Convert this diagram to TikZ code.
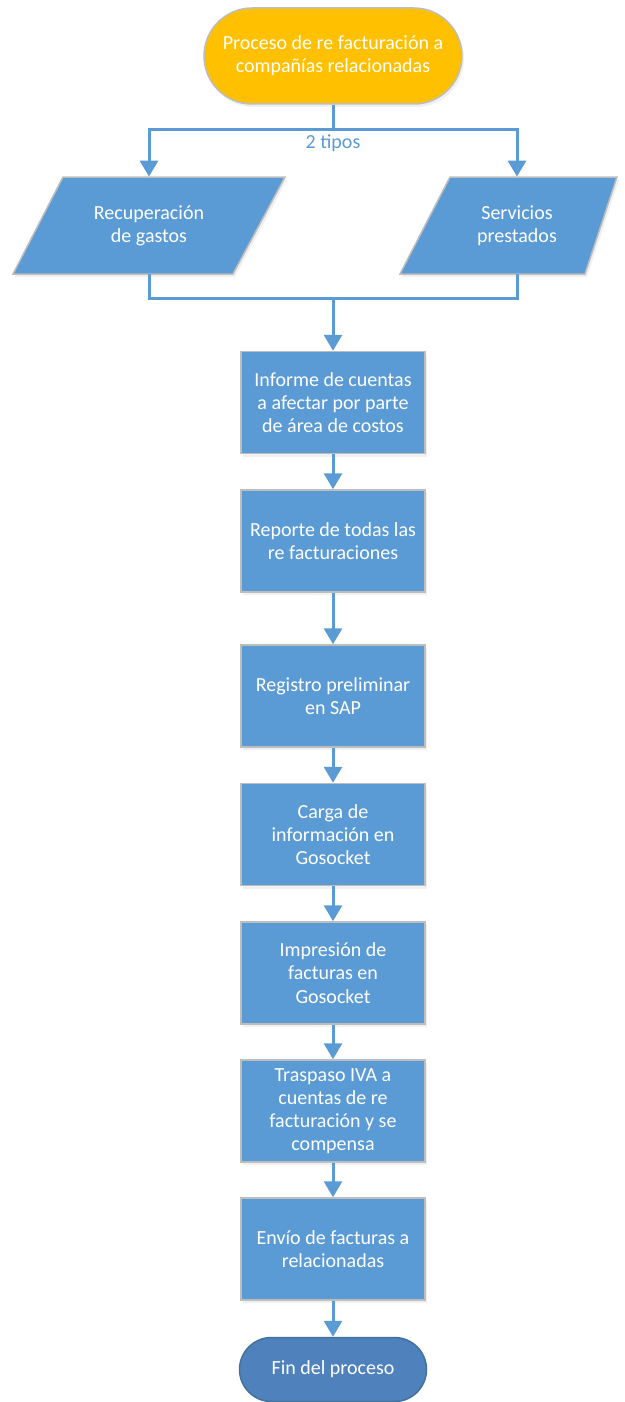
\documentclass[tikz,border=0pt]{standalone}
\usepackage{fontspec}
\setmainfont{Carlito}
\usetikzlibrary{arrows.meta,shadows}
\definecolor{boxblue}{HTML}{5B9BD5}
\definecolor{linblue}{HTML}{5B9BD5}
\definecolor{startyel}{HTML}{FFC000}
\definecolor{endblue}{HTML}{4F81BD}
\definecolor{enddraw}{HTML}{41719C}
\definecolor{bordgray}{HTML}{BDBDBD}
\tikzset{
  every node/.style={font=\fontsize{10pt}{11.6pt}\selectfont, text=white, align=center},
  shad/.style={drop shadow={opacity=0.12, shadow xshift=1pt, shadow yshift=-1.5pt}},
  procbox/.style={draw=bordgray, line width=0.75pt, fill=boxblue, minimum width=92pt, minimum height=51pt, inner sep=0pt, shad},
  parabox/.style={draw=bordgray, line width=0.75pt, fill=boxblue, shad},
  ptext/.style={minimum height=48.5pt, inner sep=0pt},
  startterm/.style={draw=bordgray, line width=0.75pt, fill=startyel, rounded corners=24pt, minimum width=129pt, minimum height=48pt, inner sep=0pt, shad},
  endterm/.style={draw=enddraw, line width=0.75pt, fill=endblue, rounded corners=16pt, minimum width=93.5pt, minimum height=32pt, inner sep=0pt},
  conn/.style={draw=linblue, line width=1.5pt},
  arr/.style={conn, -{Triangle[width=9pt,length=8pt]}},
  lbl/.style={text=linblue}
}
\begin{document}
\begin{tikzpicture}[x=0.5pt,y=-0.5pt]
\useasboundingbox (0,0) rectangle (625,1402);
% start
\node[startterm] (start) at (333,56) {Proceso de re facturación a\\compañías relacionadas};
% parallelograms
\draw[parabox] (13,274) -- (63,177) -- (285,177) -- (233,274) -- cycle;
\draw[parabox] (400,274) -- (450,177) -- (617,177) -- (585,274) -- cycle;
\node[ptext] (rec) at (149,225.5) {Recuperación\\de gastos};
\node[ptext] (srv) at (517,225.5) {Servicios\\prestados};
% process boxes
\node[procbox] (b1) at (333,402.5) {Informe de cuentas\\a afectar por parte\\de área de costos};
\node[procbox] (b2) at (333,541) {Reporte de todas las\\re facturaciones};
\node[procbox] (b3) at (333,696) {Registro preliminar\\en SAP};
\node[procbox] (b4) at (333,834.5) {Carga de\\información en\\Gosocket};
\node[procbox] (b5) at (333,973) {Impresión de\\facturas en\\Gosocket};
\node[procbox] (b6) at (333,1111) {Traspaso IVA a\\cuentas de re\\facturación y se\\compensa};
\node[procbox] (b7) at (333,1249) {Envío de facturas a\\relacionadas};
\node[endterm] (fin) at (333,1369.5) {Fin del proceso};
% connectors
\coordinate (split) at (333,130);
\coordinate (merge) at (333,298);
\draw[conn] (start.south) -- (split);
\draw[arr] (split) -| (rec.north);
\draw[arr] (split) -| (srv.north);
\node[lbl] (tipos) at (333,143) {2 tipos};
\draw[conn] (rec.south) |- (merge);
\draw[conn] (srv.south) |- (merge);
\draw[arr] (merge) -- (b1.north);
\draw[arr] (b1) -- (b2);
\draw[arr] (b2) -- (b3);
\draw[arr] (b3) -- (b4);
\draw[arr] (b4) -- (b5);
\draw[arr] (b5) -- (b6);
\draw[arr] (b6) -- (b7);
\draw[arr] (b7) -- (fin);
\end{tikzpicture}
\end{document}
